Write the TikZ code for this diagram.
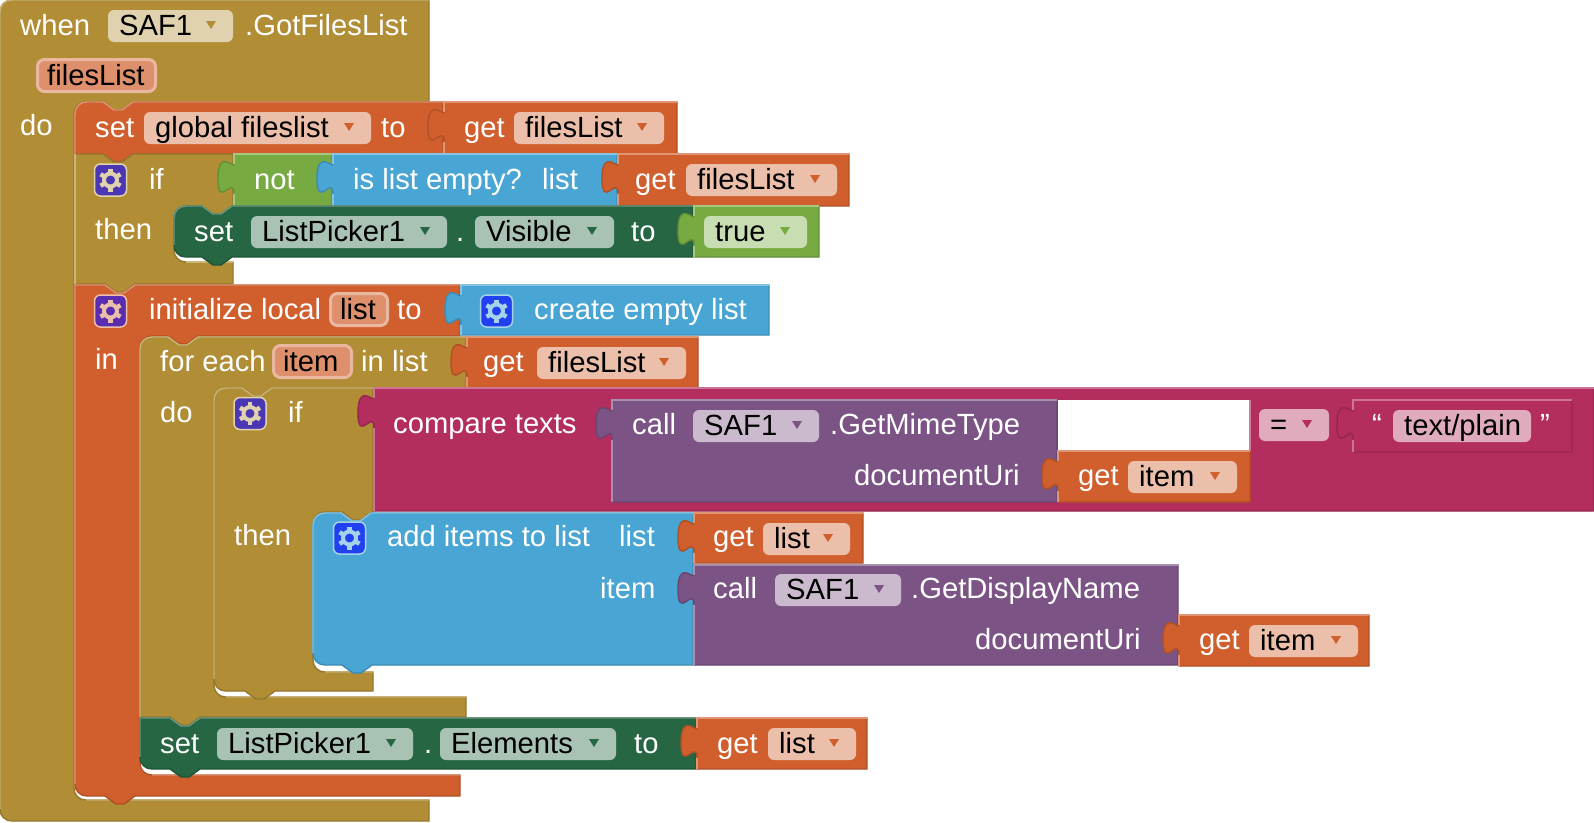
\documentclass[tikz,border=0pt]{standalone}
\usepackage{fontspec}
\setmainfont{Liberation Sans}
\usepackage{xcolor}
\definecolor{ctrlc}{HTML}{B18E35}
\definecolor{varc}{HTML}{D05F2D}
\definecolor{compc}{HTML}{266643}
\definecolor{listc}{HTML}{49A6D4}
\definecolor{logicc}{HTML}{77AB41}
\definecolor{textc}{HTML}{B32D5E}
\definecolor{procc}{HTML}{7C5385}
\definecolor{gearboxa}{HTML}{4B37B4}
\definecolor{gearboxb}{HTML}{5A2DB0}
\definecolor{gearboxc}{HTML}{2140F0}
\tikzset{
  lbl/.style={anchor=base west, inner sep=0pt, text=white, font=\fontsize{29.2}{34}\selectfont},
  fldtxt/.style={anchor=base west, inner sep=0pt, text=black, font=\fontsize{29.2}{34}\selectfont}
}
% notch on a statement block, and the puzzle tab of a value block
\newcommand{\tabR}{-- ++(11,8) -- ++(8,0) -- ++(11,-8)}
\newcommand{\tabL}{-- ++(-11,8) -- ++(-8,0) -- ++(-11,-8)}
\newcommand{\inTab}{.. controls +(0,-20) and +(0,31) .. ++(-16,-15) .. controls +(0,-31) and +(0,5) .. ++(16,-15)}
% round corners of the blocks
\newcommand{\cUR}{.. controls +(0,-7) and +(-7,0) .. ++(12,-12)}
\newcommand{\cLD}{.. controls +(-7,0) and +(0,-7) .. ++(-12,12)}
\newcommand{\cDR}{.. controls +(0,7) and +(-7,0) .. ++(12,12)}
\newcommand{\cLU}{.. controls +(-7,0) and +(0,7) .. ++(-12,-12)}
\newcommand{\blk}[2]{\path[fill=#1, draw=#1!84!black, line width=1.4pt] #2;}
\newcommand{\hlt}[2]{\draw[#1!66!white, line width=1.4pt] #2;}
\newcommand{\valblk}[5]{
  \blk{#1}{(#2,#3) -- (#4,#3) -- (#4,#5) -- (#2,#5) -- (#2,#3+40) \inTab -- cycle}
  \hlt{#1}{(#2,#3+10) -- (#2,#3) -- (#4,#3) (#2,#3+40) -- (#2,#5)}
}
\newcommand{\ddfield}[6]{
  \fill[#6!40!white, rounded corners=6pt] (#2,#4) rectangle (#3,#4+32);
  \node[fldtxt] (#1) at (#2+11,#4+25) {#5};
  \fill[#6] (#3-27,#4+11) -- (#3-17,#4+11) -- (#3-22,#4+19) -- cycle;
}
\newcommand{\pfield}[5]{
  \draw[fill=varc!70!white, draw=varc!45!white, line width=3pt, rounded corners=7pt] (#2+1.5,#4+1.5) rectangle (#3-1.5,#4+33.5);
  \node[fldtxt] (#1) at (#2+11,#4+27) {#5};
}
\newcommand{\gearbox}[5]{
  \node[draw=#5, fill=#4, line width=1.5pt, rounded corners=6pt, minimum size=32pt, inner sep=0pt] (#1) at (#2,#3) {};
  \begin{scope}[shift={(#2,#3)}]
    \foreach \a in {30,90,...,330} \draw[#5, line width=4.5pt] (\a:7) -- (\a:11.5);
    \draw[#5, line width=4pt] (0,0) circle (6.5pt);
  \end{scope}
}

\begin{document}
\begin{tikzpicture}[x=1pt, y=-1pt]
  \useasboundingbox (0,0) rectangle (1594,822);

  % event block
  \blk{ctrlc}{(0,12) \cUR -- (429,0) -- (429,102) -- (133,102) \tabL -- (86,102) \cLD -- (74,788) \cDR -- (429,800) -- (429,821) -- (12,821) \cLU -- cycle}
  \hlt{ctrlc}{(0,809) -- (0,12) \cUR -- (429,0) (86,800) -- (429,800)}
  \node[lbl] (when) at (20,35) {when};
  \ddfield{saf}{108}{233}{10}{SAF1}{ctrlc}
  \node[lbl] (gotfiles) at (245,35) {.GotFilesList};
  \pfield{fileslist}{36}{157}{58}{filesList}
  \node[lbl] (doA) at (20,135) {do};

  % set global fileslist
  \blk{varc}{(75,114) \cUR -- (103,102) \tabR -- (443,102) -- (443,154) -- (133,154) \tabL -- (75,154) -- cycle}
  \hlt{varc}{(75,154) -- (75,114) \cUR -- (103,102) \tabR -- (443,102)}
  \node[lbl] (setA) at (95,137) {set};
  \ddfield{globalf}{144}{371}{112}{global fileslist}{varc}
  \node[lbl] (toA) at (381,137) {to};
  \valblk{varc}{444}{102}{677}{154}
  \node[lbl] (getA) at (464,137) {get};
  \ddfield{getfA}{514}{664}{112}{filesList}{varc}

  % first if
  \blk{ctrlc}{(75,154) -- (103,154) \tabR -- (233,154) -- (233,206) -- (232,206) \tabL -- (186,206) \cLD -- (174,250) \cDR -- (233,262) -- (233,284) -- (135,284) \tabL -- (75,284) -- cycle}
  \hlt{ctrlc}{(75,284) -- (75,154) (186,262) -- (233,262)}
  \gearbox{gearA}{110.5}{180}{gearboxa}{ctrlc!40!white}
  \node[lbl] (ifA) at (149,189) {if};
  \node[lbl] (thenA) at (95,239) {then};
  \valblk{logicc}{234}{154}{332}{206}
  \node[lbl] (notA) at (254,189) {not};
  \valblk{listc}{333}{154}{617}{206}
  \node[lbl] (empty) at (353,189) {is list empty?};
  \node[lbl] (listA) at (542,189) {list};
  \valblk{varc}{618}{154}{849}{206}
  \node[lbl] (getB) at (635,189) {get};
  \ddfield{getfB}{686}{837}{164}{filesList}{varc}

  % set ListPicker1.Visible
  \blk{compc}{(174,218) \cUR -- (202,206) \tabR -- (693,206) -- (693,257) -- (232,257) \tabL -- (186,257) \cLU -- cycle}
  \hlt{compc}{(174,245) -- (174,218) \cUR -- (202,206) \tabR -- (693,206)}
  \node[lbl] (setB) at (194,241) {set};
  \ddfield{pickerA}{251}{447}{216}{ListPicker1}{compc}
  \node[lbl] (dotA) at (456,241) {.};
  \ddfield{visible}{475}{614}{216}{Visible}{compc}
  \node[lbl] (toB) at (631,241) {to};
  \valblk{logicc}{694}{206}{819}{257}
  \ddfield{truef}{704}{807}{216}{true}{logicc}

  % initialize local
  \blk{varc}{(75,285) -- (105,285) \tabR -- (460,285) -- (460,336) -- (198,336) \tabL -- (152,336) \cLD -- (140,763) \cDR -- (460,775) -- (460,796) -- (135,796) \tabL -- (87,796) \cLU -- cycle}
  \hlt{varc}{(75,784) -- (75,285) -- (105,285) \tabR -- (460,285) (152,775) -- (460,775)}
  \gearbox{gearB}{110.5}{311}{gearboxb}{varc!40!white}
  \node[lbl] (initl) at (149,319) {initialize local};
  \pfield{listp}{329}{389}{292}{list}
  \node[lbl] (toC) at (397,319) {to};
  \valblk{listc}{461}{285}{769}{335}
  \gearbox{gearC}{496.5}{311}{gearboxc}{listc!50!white}
  \node[lbl] (create) at (534,319) {create empty list};
  \node[lbl] (inA) at (95,369) {in};

  % for each
  \blk{ctrlc}{(140,349) \cUR -- (168,337) \tabR -- (466,337) -- (466,388) -- (272,388) \tabL -- (226,388) \cLD -- (214,685) \cDR -- (466,697) -- (466,717) -- (200,717) \tabL -- (140,717) -- cycle}
  \hlt{ctrlc}{(140,717) -- (140,349) \cUR -- (168,337) \tabR -- (466,337) (226,697) -- (466,697)}
  \node[lbl] (foreach) at (160,371) {for each};
  \pfield{itemp}{272}{353}{344}{item}
  \node[lbl] (inlist) at (361,371) {in list};
  \valblk{varc}{467}{337}{698}{388}
  \node[lbl] (getC) at (483,371) {get};
  \ddfield{getfC}{537}{686}{347}{filesList}{varc}
  \node[lbl] (doB) at (160,422) {do};

  % second if
  \blk{ctrlc}{(214,400) \cUR -- (242,388) \tabR -- (373,388) -- (373,512) -- (372,512) \tabL -- (325,512) \cLD -- (313,660) \cDR -- (373,672) -- (373,691) -- (275,691) \tabL -- (226,691) \cLU -- cycle}
  \hlt{ctrlc}{(214,679) -- (214,400) \cUR -- (242,388) \tabR -- (373,388) (325,672) -- (373,672)}
  \gearbox{gearD}{250}{413.5}{gearboxa}{ctrlc!40!white}
  \node[lbl] (ifB) at (288,422) {if};
  \node[lbl] (thenB) at (234,545) {then};

  % compare texts
  \valblk{textc}{374}{388}{1594}{511}
  \node[lbl] (compare) at (393,433) {compare texts};
  \fill[white] (1058,400) rectangle (1250,451);
  \draw[textc!62!white, line width=1.5pt] (1250,400) -- (1250,451);
  \valblk{procc}{612}{400}{1057}{502}
  \node[lbl] (callA) at (632,434) {call};
  \ddfield{safB}{693}{819}{410}{SAF1}{procc}
  \node[lbl] (mime) at (830,434) {.GetMimeType};
  \node[lbl] (uriA) at (854,485) {documentUri};
  \valblk{varc}{1058}{451}{1250}{502}
  \node[lbl] (getD) at (1078,485) {get};
  \ddfield{itemA}{1128}{1237}{461}{item}{varc}
  \ddfield{eqf}{1259}{1329}{409}{=}{textc}
  \valblk{textc}{1353}{400}{1572}{452}
  \node[lbl] (quoteL) at (1372,434) {“};
  \fill[textc!40!white, rounded corners=6pt] (1393,410) rectangle (1531,442);
  \node[fldtxt] (plain) at (1404,435) {text/plain};
  \node[lbl] (quoteR) at (1540,434) {”};

  % add items to list
  \blk{listc}{(313,525) \cUR -- (341,513) \tabR -- (693,513) -- (693,665) -- (372,665) \tabL -- (325,665) \cLU -- cycle}
  \hlt{listc}{(313,653) -- (313,525) \cUR -- (341,513) \tabR -- (693,513)}
  \gearbox{gearE}{349.5}{538}{gearboxc}{listc!50!white}
  \node[lbl] (additems) at (387,546) {add items to list};
  \node[lbl] (listB) at (619,546) {list};
  \node[lbl] (itemB) at (600,598) {item};
  \valblk{varc}{694}{513}{863}{563}
  \node[lbl] (getE) at (713,546) {get};
  \ddfield{listC}{763}{850}{523}{list}{varc}
  \valblk{procc}{694}{565}{1178}{665}
  \node[lbl] (callB) at (713,598) {call};
  \ddfield{safC}{775}{901}{574}{SAF1}{procc}
  \node[lbl] (display) at (911,598) {.GetDisplayName};
  \node[lbl] (uriB) at (975,649) {documentUri};
  \valblk{varc}{1179}{615}{1369}{666}
  \node[lbl] (getF) at (1199,649) {get};
  \ddfield{itemC}{1249}{1358}{625}{item}{varc}

  % set ListPicker1.Elements
  \blk{compc}{(140,718) -- (170,718) \tabR -- (696,718) -- (696,769) -- (200,769) \tabL -- (152,769) \cLU -- cycle}
  \hlt{compc}{(140,757) -- (140,718) -- (170,718) \tabR -- (696,718)}
  \node[lbl] (setC) at (160,753) {set};
  \ddfield{pickerB}{217}{413}{728}{ListPicker1}{compc}
  \node[lbl] (dotB) at (424,753) {.};
  \ddfield{elements}{440}{616}{728}{Elements}{compc}
  \node[lbl] (toD) at (634,753) {to};
  \valblk{varc}{697}{718}{867}{769}
  \node[lbl] (getG) at (717,753) {get};
  \ddfield{listD}{768}{856}{728}{list}{varc}
\end{tikzpicture}
\end{document}
